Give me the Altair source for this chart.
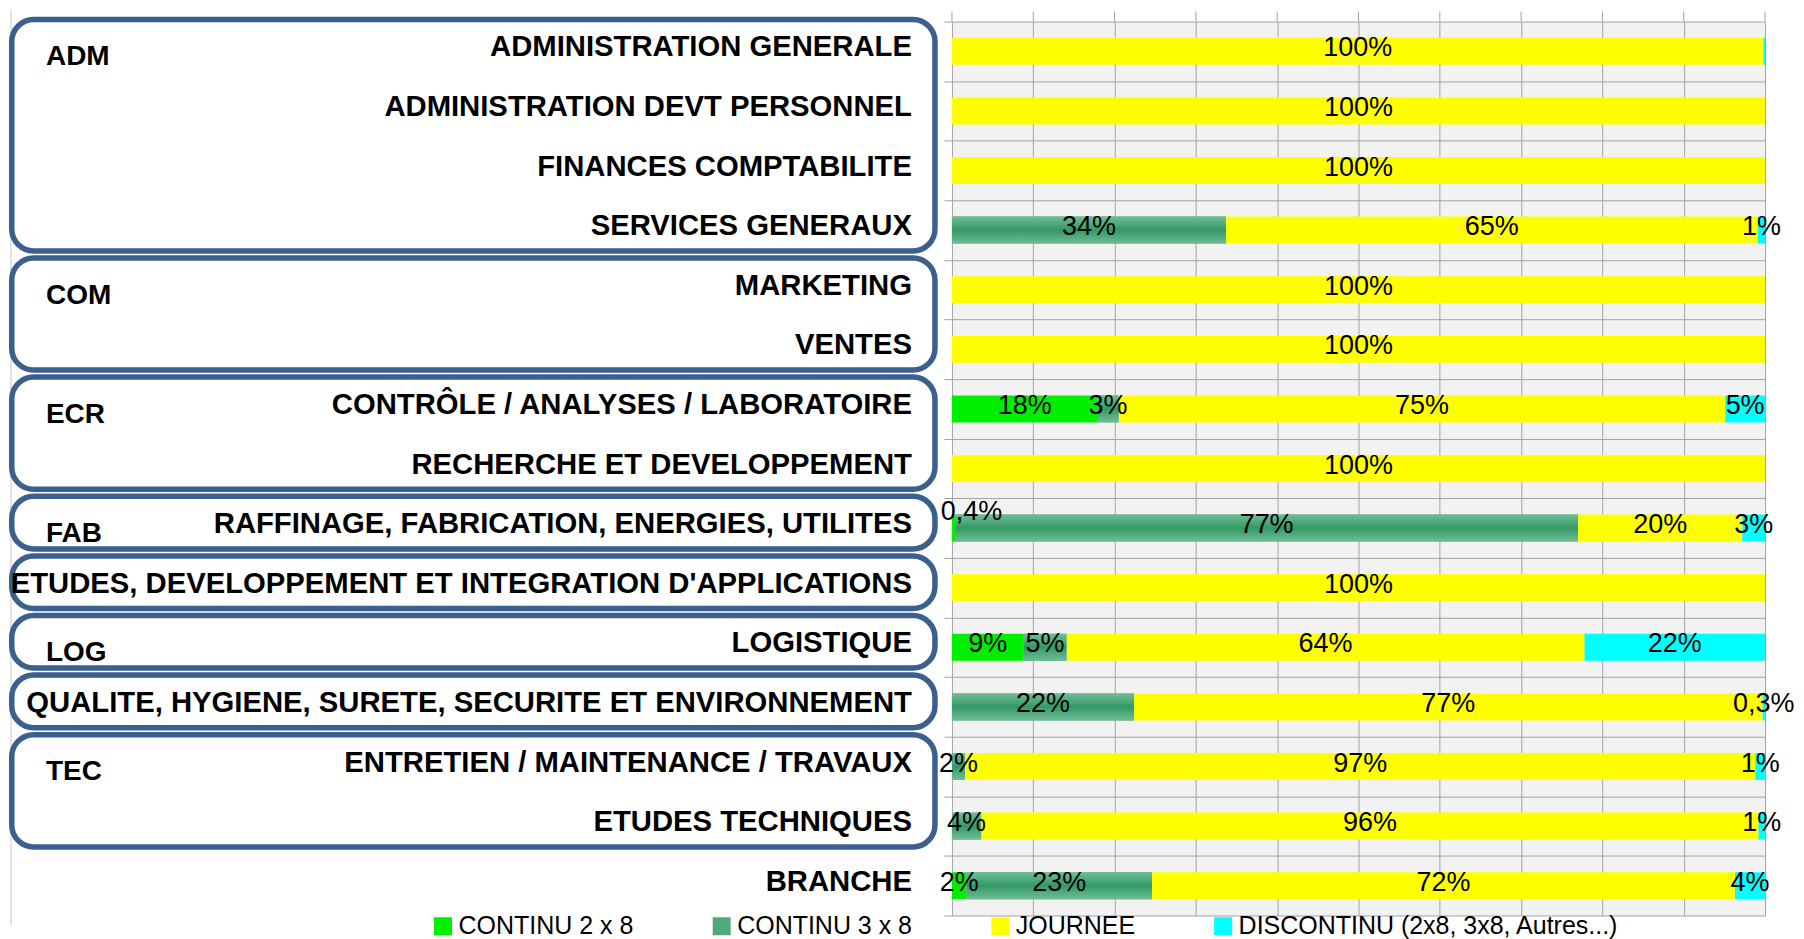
import altair as alt
import pandas as pd

categories = [
    "ADMINISTRATION GENERALE",
    "ADMINISTRATION DEVT PERSONNEL",
    "FINANCES COMPTABILITE",
    "SERVICES GENERAUX",
    "MARKETING",
    "VENTES",
    "CONTRÔLE / ANALYSES / LABORATOIRE",
    "RECHERCHE ET DEVELOPPEMENT",
    "RAFFINAGE, FABRICATION, ENERGIES, UTILITES",
    "ETUDES, DEVELOPPEMENT ET INTEGRATION D'APPLICATIONS",
    "LOGISTIQUE",
    "QUALITE, HYGIENE, SURETE, SECURITE ET ENVIRONNEMENT",
    "ENTRETIEN / MAINTENANCE / TRAVAUX",
    "ETUDES TECHNIQUES",
    "BRANCHE",
]
continu_2x8 = [0, 0, 0, 0, 0, 0, 17.9, 0, 0.4, 0, 8.8, 0, 0, 0, 1.8]
continu_3x8 = [0, 0, 0, 33.7, 0, 0, 2.6, 0, 76.6, 0, 5.3, 22.4, 1.6, 3.6, 22.8]
journee = [99.8, 100, 100, 65.4, 100, 100, 74.6, 100, 20.2, 100, 63.7, 77.3, 97.2, 95.6, 71.7]
discontinu = [0.2, 0, 0, 0.9, 0, 0, 4.9, 0, 2.8, 0, 22.2, 0.3, 1.2, 0.8, 3.7]

series_names = ["CONTINU 2 x 8", "CONTINU 3 x 8", "JOURNEE", "DISCONTINU (2x8, 3x8, Autres...)"]
series_colors = ["#00ee00", "#4fa97a", "#ffff00", "#00ffff"]

group_codes = ["ADM", "COM", "ECR", "FAB", "", "LOG", "", "TEC"]
group_sizes = [4, 2, 2, 1, 1, 1, 1, 2]

x_ticks = list(range(0, 101, 10))

FONT = "Liberation Sans"
GRID = "#a3a3a3"
BOX = "#3b5f8e"


def fmt(v):
    if v < 0.5:
        return f"{v:.1f}".replace(".", ",") + "%"
    return f"{round(v)}%"


rows = []
for i, cat in enumerate(categories):
    for k, (name, vals) in enumerate(
        zip(series_names, [continu_2x8, continu_3x8, journee, discontinu])
    ):
        v = vals[i]
        rows.append(
            {
                "cat": cat,
                "row": i,
                "series": name,
                "order": k,
                "value": v,
                "label": fmt(v) if v >= 0.25 else "",
            }
        )
df = pd.DataFrame(rows)

cat_df = pd.DataFrame({"cat": categories, "row": list(range(len(categories)))})

firsts = []
acc = 0
for s in group_sizes:
    firsts.append(acc)
    acc += s
box_df = pd.DataFrame(
    {
        "code": group_codes,
        "top": firsts,
        "bottom": [f + s for f, s in zip(firsts, group_sizes)],
    }
)

H = 895
WL = 944
WR = 814
nrows = len(categories)
yscale = alt.Scale(domain=[0, nrows], reverse=True, nice=False, zero=False, padding=0)
xscale = alt.Scale(domain=[0, 100], nice=False, padding=0)

# ---------------- right panel: bars ----------------
base = (
    alt.Chart(df)
    .transform_window(
        cum="sum(value)", groupby=["cat"], sort=[alt.SortField("order")], frame=[None, 0]
    )
    .transform_calculate(
        start="datum.cum - datum.value",
        mid="datum.cum - datum.value / 2",
        pos="datum.row + 0.5",
    )
    .transform_filter("datum.value > 0")
)

y_enc = alt.Y(
    "pos:Q",
    scale=yscale,
    axis=alt.Axis(
        values=list(range(nrows + 1)),
        labels=False,
        ticks=True,
        tickSize=8,
        tickColor=GRID,
        grid=True,
        gridColor=GRID,
        domain=False,
        title=None,
    ),
)
x_enc = alt.X(
    "start:Q",
    scale=xscale,
    axis=alt.Axis(
        values=x_ticks,
        labels=False,
        ticks=False,
        grid=True,
        gridColor=GRID,
        domain=False,
        title=None,
    ),
)

bars = base.mark_bar(size=27).encode(
    x=x_enc,
    x2="cum:Q",
    y=y_enc,
    color=alt.Color(
        "series:N",
        scale=alt.Scale(domain=series_names, range=series_colors),
        legend=alt.Legend(
            orient="none",
            legendX=422,
            legendY=893,
            direction="horizontal",
            title=None,
            symbolType="square",
            symbolSize=324,
            symbolStrokeWidth=0,
            symbolOpacity=1,
            labelFont=FONT,
            labelFontSize=25,
            labelColor="#000000",
            labelOffset=3,
            labelLimit=0,
            columnPadding=75,
            padding=0,
        ),
    ),
)

grad = alt.LinearGradient(
    gradient="linear",
    stops=[
        alt.GradientStop(color="#70bd95", offset=0),
        alt.GradientStop(color="#339966", offset=0.5),
        alt.GradientStop(color="#70bd95", offset=1),
    ],
    x1=0,
    x2=0,
    y1=0,
    y2=1,
)
bars3 = (
    base.transform_filter(alt.datum.series == series_names[1])
    .mark_bar(size=27, color=grad)
    .encode(x="start:Q", x2="cum:Q", y="pos:Q")
)

small_cond = f"datum.series == '{series_names[0]}' && datum.value < 0.5"
texts = (
    base.transform_filter(f"!({small_cond})")
    .mark_text(font=FONT, fontSize=27, color="#000000", baseline="middle", dy=-3)
    .encode(x="mid:Q", y="pos:Q", text="label:N")
)
texts_small = (
    base.transform_filter(small_cond)
    .mark_text(font=FONT, fontSize=27, color="#000000", baseline="middle", dx=18, dy=-16)
    .encode(x="mid:Q", y="pos:Q", text="label:N")
)

# short stubs of the vertical gridlines above the first row
stubs = (
    alt.Chart(pd.DataFrame({"t": x_ticks}))
    .mark_rule(color=GRID, strokeWidth=1)
    .encode(x=alt.X("t:Q", scale=xscale), y=alt.value(-10), y2=alt.value(0))
)

right = alt.layer(bars, bars3, texts, texts_small, stubs).properties(
    width=WR,
    height=H,
    view=alt.ViewBackground(fill="#f2f2f2", stroke="transparent"),
)

# ---------------- left panel: group boxes and labels ----------------
boxes = (
    alt.Chart(box_df)
    .mark_rect(
        filled=False,
        color=BOX,
        strokeWidth=5.5,
        cornerRadius=22,
        yOffset=-2,
        y2Offset=-9,
    )
    .encode(
        x=alt.value(2.75),
        x2=alt.value(927),
        y=alt.Y("top:Q", scale=yscale, axis=None),
        y2="bottom:Q",
    )
)

group_labels = (
    alt.Chart(box_df)
    .transform_filter("datum.code != ''")
    .transform_calculate(pos="datum.top + 0.5")
    .mark_text(
        font=FONT, fontSize=28, fontWeight="bold", color="#000000",
        align="left", baseline="middle", dy=6,
    )
    .encode(x=alt.value(37), y=alt.Y("pos:Q", scale=yscale, axis=None), text="code:N")
)

cat_labels = (
    alt.Chart(cat_df)
    .transform_calculate(pos="datum.row + 0.5")
    .mark_text(
        font=FONT, fontSize=29.3, fontWeight="bold", color="#000000",
        align="right", baseline="middle", dy=-4,
    )
    .encode(x=alt.value(904), y=alt.Y("pos:Q", scale=yscale, axis=None), text="cat:N")
)

border = (
    alt.Chart(pd.DataFrame({"a": [0]}))
    .mark_rule(color="#c8c8c8", strokeWidth=1)
    .encode(x=alt.value(2), y=alt.value(-12), y2=alt.value(905))
)

left = alt.layer(border, boxes, group_labels, cat_labels).properties(
    width=WL,
    height=H,
    view=alt.ViewBackground(fill="#ffffff", stroke="transparent"),
)

chart = (
    alt.hconcat(left, right, spacing=0)
    .properties(bounds="flush", padding=0, background="#ffffff")
    .configure_view(stroke="transparent")
)

chart.save("out.html", embed_options={"renderer": "svg", "actions": False})
